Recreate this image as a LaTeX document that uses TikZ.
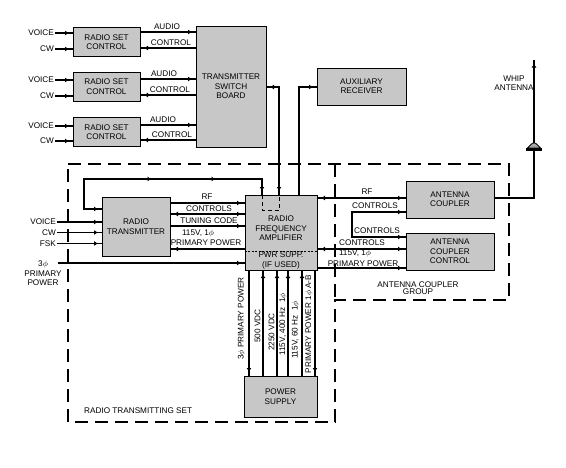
\documentclass[tikz,border=0pt]{standalone}
\usepackage{fontspec}
\setmainfont{Liberation Sans}
\usetikzlibrary{arrows.meta,decorations.markings}
\begin{document}
\tikzset{
  smtip/.tip={Latex[length=4pt,width=5pt]},
  box/.style={draw, line width=1pt, fill=black!22, align=center, inner sep=0pt,
    font=\fontsize{8.2}{9.4}\selectfont},
  lbl/.style={inner sep=1pt, align=center, font=\fontsize{8.2}{9.4}\selectfont},
  conn/.style={line width=1.7pt},
  ea/.style={postaction={decorate,decoration={markings,mark=at position -3.5pt with {\arrow{smtip}}}}},
  sa/.style={postaction={decorate,decoration={markings,mark=at position 3.5pt with {\arrowreversed{smtip}}}}},
  outl/.style={line width=2.6pt, dash pattern=on 13pt off 7pt},
  inner/.style={line width=1pt, dash pattern=on 4pt off 3pt},
}
\begin{tikzpicture}[x=1pt,y=-1pt]
\useasboundingbox (0,0) rectangle (566,467);

% dashed group outlines
\draw[outl] (68,164) -- (509,164) -- (509,300) -- (335,300) -- (335,422) -- (68,422) -- cycle;
\draw[outl] (335,164) -- (335,300);

% boxes
\node[box, minimum width=67pt, minimum height=29pt] (rsc1) at (106.5,42) {RADIO SET\\CONTROL};
\node[box, minimum width=67pt, minimum height=29pt] (rsc2) at (106.5,86.5) {RADIO SET\\CONTROL};
\node[box, minimum width=67pt, minimum height=29pt] (rsc3) at (106.5,132) {RADIO SET\\CONTROL};
\node[box, minimum width=70pt, minimum height=121pt] (tsb) at (231,86.5) {TRANSMITTER\\SWITCH\\BOARD};
\node[box, minimum width=89pt, minimum height=37pt] (aux) at (361.5,86.5) {AUXILIARY\\RECEIVER};
\node[box, minimum width=68pt, minimum height=59pt] (rtx) at (136,226.5) {RADIO\\TRANSMITTER};
\node[box, minimum width=72pt, minimum height=75pt] (rfa) at (281,232.5) {};
\node[box, minimum width=88pt, minimum height=37pt] (ac) at (450,199.5) {ANTENNA\\COUPLER};
\node[box, minimum width=88pt, minimum height=37pt] (acc) at (450,251.5) {ANTENNA\\COUPLER\\CONTROL};
\node[box, minimum width=73pt, minimum height=41pt] (ps) at (280.5,396.5) {POWER\\SUPPLY};

\node[lbl] (rfat) at (281,228.5) {RADIO\\FREQUENCY\\AMPLIFIER};
\node[lbl] (rfap) at (281,260.5) {PWR SUPP.\\(IF USED)};
\draw[line width=0.6pt, dash pattern=on 2pt off 1.5pt] (rfa.west |- 0,251) -- (rfa.east |- 0,251);
\draw[inner] (rfa.north -| 262,0) -- (262,210) -- (279,210) -- (rfa.north -| 279,0);

% radio set control rows
\node[lbl, anchor=east] (v1) at (55,33) {VOICE};
\node[lbl, anchor=east] (c1) at (55,49) {CW};
\node[lbl, anchor=east] (v2) at (55,80) {VOICE};
\node[lbl, anchor=east] (c2) at (55,96) {CW};
\node[lbl, anchor=east] (v3) at (55,126) {VOICE};
\node[lbl, anchor=east] (c3) at (55,141) {CW};
\draw[conn,ea] (v1.east) -- (v1.east -| rsc1.west);
\draw[conn,ea] (c1.east) -- (c1.east -| rsc1.west);
\draw[conn,ea] (v2.east) -- (v2.east -| rsc2.west);
\draw[conn,ea] (c2.east) -- (c2.east -| rsc2.west);
\draw[conn,ea] (v3.east) -- (v3.east -| rsc3.west);
\draw[conn,ea] (c3.east) -- (c3.east -| rsc3.west);

\draw[conn,ea] (rsc1.east |- 0,32) -- (tsb.west |- 0,32);
\draw[conn,ea] (tsb.west |- 0,48) -- (rsc1.east |- 0,48);
\draw[conn,ea] (rsc2.east |- 0,79) -- (tsb.west |- 0,79);
\draw[conn,ea] (tsb.west |- 0,95) -- (rsc2.east |- 0,95);
\draw[conn,ea] (rsc3.east |- 0,125) -- (tsb.west |- 0,125);
\draw[conn,ea] (tsb.west |- 0,140) -- (rsc3.east |- 0,140);
\node[lbl] at (167,27) {AUDIO};
\node[lbl] at (171,43) {CONTROL};
\node[lbl] at (164,73.5) {AUDIO};
\node[lbl] at (170,90) {CONTROL};
\node[lbl] at (163,119.5) {AUDIO};
\node[lbl] at (172,135) {CONTROL};

% switchboard to RFA, RFA to aux receiver
\draw[conn,sa,ea] (tsb.east |- 0,87) -- (279,87) -- (rfa.north -| 279,0);
\draw[conn,ea] (rfa.north -| 299,0) -- (299,87) -- (aux.west |- 0,87);

% feedback loop
\draw[conn,sa,ea,postaction={decorate,decoration={markings,
   mark=at position 62pt with {\arrowreversed{smtip}},
   mark=at position 126pt with {\arrowreversed{smtip}}}}]
  (rfa.north -| 262,0) -- (262,179) -- (84,179) -- (84,209) -- (rtx.west |- 0,209);

% transmitter inputs
\node[lbl, anchor=east] (vt) at (57,222) {VOICE};
\node[lbl, anchor=east] (ct) at (57,232.5) {CW};
\node[lbl, anchor=east] (ft) at (57,243.5) {FSK};
\draw[conn,ea] (vt.east) -- (vt.east -| rtx.west);
\draw[conn,ea] (ct.east) -- (ct.east -| rtx.west);
\draw[conn,ea] (ft.east) -- (ft.east -| rtx.west);
\node[lbl] (p3) at (43,273.5) {3$\phi$\\PRIMARY\\POWER};
\coordinate (p3s) at (58,263);
\draw[conn,ea] (p3s) -- (p3s -| rfa.west);

% transmitter <-> RFA
\draw[conn,ea] (rtx.east |- 0,203) -- (rfa.west |- 0,203);
\draw[conn,sa,ea] (rtx.east |- 0,214) -- (rfa.west |- 0,214);
\draw[conn,ea] (rtx.east |- 0,226) -- (rfa.west |- 0,226);
\draw[conn,ea] (rfa.west |- 0,249) -- (rtx.east |- 0,249);
\node[lbl] at (207,197) {RF};
\node[lbl] at (209,208.5) {CONTROLS};
\node[lbl] at (209,220.5) {TUNING CODE};
\node[lbl] at (198,233) {115V, 1$\phi$};
\node[lbl] at (206,243) {PRIMARY POWER};

% RFA <-> antenna coupler group
\draw[conn,sa,ea] (rfa.east |- 0,198) -- (ac.west |- 0,198);
\draw[conn,sa,ea] (ac.west |- 0,212) -- (352,212) -- (352,237) -- (acc.west |- 0,237);
\draw[conn,sa,ea] (rfa.east |- 0,249) -- (acc.west |- 0,249);
\draw[conn,ea] (rfa.east |- 0,268) -- (acc.west |- 0,268);
\node[lbl] at (367,192) {RF};
\node[lbl] at (375,206) {CONTROLS};
\node[lbl] at (377,231) {CONTROLS};
\node[lbl] at (362,243) {CONTROLS};
\node[lbl] at (355,253.5) {115V, 1$\phi$};
\node[lbl] at (363,263.5) {PRIMARY POWER};

% whip antenna
\coordinate (whip) at (534,60);
\draw[conn,ea] (ac.east |- 0,198) -- (whip |- 0,198) -- (whip);
\filldraw[fill=black!35, line width=0.8pt] (527.5,148) -- (531,144.5) .. controls (532,142.5) and (536,142.5) .. (537,144.5) -- (540.5,148) -- cycle;
\fill (526,148) rectangle (542,150.5);
\node[lbl] at (514,83) {WHIP\\ANTENNA};

% power supply lines
\draw[conn,ea] (rfa.south -| 249,0) -- (ps.north -| 249,0);
\draw[conn,ea] (ps.north -| 263,0) -- (rfa.south -| 263,0);
\draw[conn,ea] (ps.north -| 277,0) -- (rfa.south -| 277,0);
\draw[conn,ea] (ps.north -| 288,0) -- (rfa.south -| 288,0);
\draw[conn,ea] (ps.north -| 302,0) -- (rfa.south -| 302,0);
\draw[conn,ea] (rfa.south -| 315,0) -- (ps.north -| 315,0);
\node[lbl, rotate=90] at (241.5,318.5) {3$\phi$ PRIMARY POWER};
\node[lbl, rotate=90] at (257.5,326) {500 VDC};
\node[lbl, rotate=90] at (271.5,332) {2250 VDC};
\node[lbl, rotate=90] at (283,324.5) {115V, 400 Hz\ \ 1$\phi$};
\node[lbl, rotate=90] at (295.5,330) {115V, 60 Hz\ \ 1$\phi$};
\node[lbl, rotate=90] at (309,324) {PRIMARY POWER 1$\phi$ A-B};

% group labels
\node[lbl, anchor=west] at (83,411) {RADIO TRANSMITTING SET};
\node[lbl] at (418,288.5) {ANTENNA COUPLER\\[-2.5pt]GROUP};
\end{tikzpicture}
\end{document}
